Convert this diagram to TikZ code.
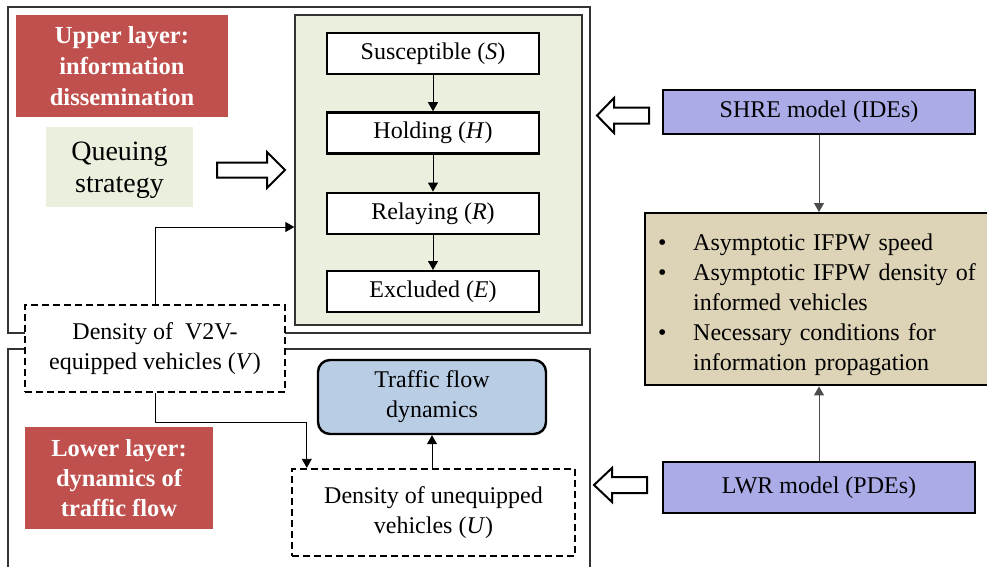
\documentclass[tikz,border=0pt]{standalone}
\usepackage{fontspec}
\setmainfont{LiberationSerif}[Extension=.ttf, UprightFont=*-Regular, BoldFont=*-Bold, ItalicFont=*-Italic, BoldItalicFont=*-BoldItalic]
\usepackage{tikz}
\usetikzlibrary{arrows.meta, positioning, calc}

\definecolor{layerred}{HTML}{C0504D}
\definecolor{palegreen}{HTML}{EBF0DE}
\definecolor{trafficblue}{HTML}{B9CDE5}
\definecolor{modelblue}{HTML}{ABABE8}
\definecolor{resulttan}{HTML}{DDD3B7}
\definecolor{framegray}{HTML}{333333}

\begin{document}
\begin{tikzpicture}[
    x=1pt, y=-1pt,
    every node/.style={font=\fontsize{24}{30}\selectfont},
    frame/.style={draw=framegray, line width=1.3pt},
    layer/.style={rectangle, fill=layerred, text=white, align=center, font=\fontsize{24.5}{31}\selectfont\bfseries},
    statebox/.style={rectangle, draw, line width=2.4pt, fill=white, minimum width=212pt, minimum height=41pt, inner sep=2pt},
    densbox/.style={rectangle, draw, line width=2.4pt, dash pattern=on 7pt off 4pt, fill=white, align=center},
    modelbox/.style={rectangle, draw, line width=2.4pt, fill=modelblue, minimum width=312pt},
    hollow/.style={draw, line width=2pt, fill=white, line join=miter},
    flow/.style={-{Triangle[length=9pt,width=10pt]}, line width=0.9pt},
    grayflow/.style={flow, draw=black!70}
]
\useasboundingbox (0,0) rectangle (987,566);

% frames of the two layers
\draw[frame] (8,7) rectangle (590,333);
\draw[frame] (8,570) |- (590,349) -- (590,570);

% Upper layer
\node[layer, minimum width=212pt, minimum height=102pt] (upperlabel) at (122,66) {Upper layer:\\information\\dissemination};
\node[fill=palegreen, align=center, minimum width=147pt, minimum height=80pt, font=\fontsize{28}{32}\selectfont] (queuing) at (119.5,167) {\rule{0pt}{26pt}Queuing\\strategy};

\node[frame, fill=palegreen, minimum width=287pt, minimum height=310pt] (shrebox) at (438.5,170) {};
\node[statebox] (susc) at (433,53.5) {Susceptible (\textit{S})};
\node[statebox, below=36pt of susc] (hold) {Holding (\textit{H})};
\node[statebox, below=37pt of hold] (relay) {Relaying (\textit{R})};
\node[statebox, below=35pt of relay] (excl) {Excluded (\textit{E})};

\draw[flow] (susc) -- (hold);
\draw[flow] (hold) -- (relay);
\draw[flow] (relay) -- (excl);

% Density nodes shared by both layers
\node[densbox, minimum width=260pt, minimum height=87pt] (v2v) at (155,348.5) {Density of \ V2V-\\equipped vehicles (\textit{V})};

% Lower layer
\node[layer, minimum width=188pt, minimum height=102pt, font=\fontsize{24.5}{30}\selectfont\bfseries] (lowerlabel) at (119,478) {Lower layer:\\dynamics of\\traffic flow};
\node[draw, line width=2.4pt, rounded corners=12pt, fill=trafficblue, align=center, minimum width=228pt, minimum height=74pt] (traffic) at (432,397) {Traffic flow\\dynamics};
\node[densbox, minimum width=283pt, minimum height=87pt] (unequip) at (433.5,512.5) {Density of unequipped\\vehicles (\textit{U})};

\draw[flow] (v2v.north) |- ([yshift=-57pt]shrebox.west);
\draw[flow] (v2v.south) -- ++(0,29) -| ([xshift=16pt]unequip.north west);
\draw[flow] (traffic.south |- unequip.north) -- (traffic.south);

% Models and results
\node[modelbox, minimum height=44pt] (shre) at (819,112) {SHRE model (IDEs)};
\node[modelbox, minimum height=51pt] (lwr) at (819,487.5) {LWR model (PDEs)};
\node[draw, line width=2.4pt, fill=resulttan, anchor=north west, text width=340pt, align=left,
      inner xsep=13pt, inner ysep=0pt, minimum height=172pt] (results) at (644,212)
  {\rule{0pt}{27pt}\makebox[35pt][l]{\textbullet}Asymptotic IFPW speed\\
   \makebox[35pt][l]{\textbullet}Asymptotic IFPW density of\\
   \hspace*{35pt}informed vehicles\\
   \makebox[35pt][l]{\textbullet}Necessary conditions for\\
   \hspace*{35pt}information propagation};

\draw[grayflow] (shre.south) -- (shre.south |- results.north);
\draw[grayflow] (lwr.north) -- (lwr.north |- results.south);

% hollow arrows
\draw[hollow] (217,162.5) -- (267,162.5) -- (267,152) -- (285,170) -- (267,188) -- (267,177.5) -- (217,177.5) -- cycle;
\draw[hollow] (649,107.5) -- (614,107.5) -- (614,98) -- (597,115.5) -- (614,133) -- (614,123.5) -- (649,123.5) -- cycle;
\draw[hollow] (647,477) -- (612,477) -- (612,468) -- (594,485) -- (612,502) -- (612,493) -- (647,493) -- cycle;

\end{tikzpicture}
\end{document}
